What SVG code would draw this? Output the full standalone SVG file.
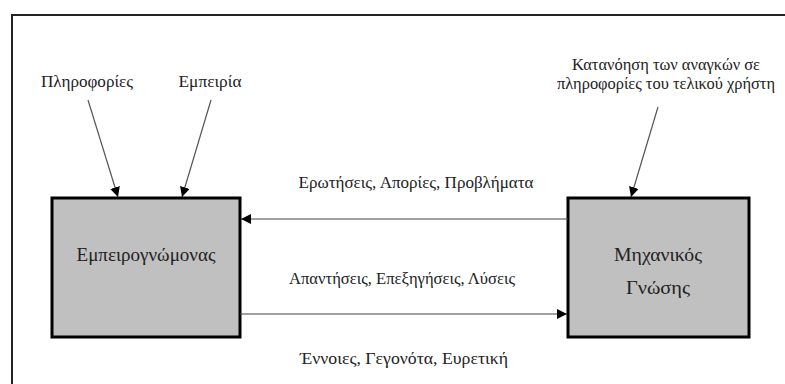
<svg xmlns="http://www.w3.org/2000/svg" width="785" height="384" viewBox="0 0 785 384">
  <defs>
    <marker id="arrow" viewBox="0 0 10 10" refX="10" refY="5" markerWidth="10" markerHeight="10" markerUnits="userSpaceOnUse" orient="auto">
      <path d="M0,0 L10,5 L0,10 z" fill="#000"/>
    </marker>
  </defs>
  <style>
    text { font-family: "Liberation Serif", "Times New Roman", serif; fill: #222; }
    .lbl { font-size: 16px; }
    .node-text { font-size: 18px; }
    .box { fill: #c0c0c0; stroke: #000; stroke-width: 3; }
    .link { stroke: #444; stroke-width: 1.2; fill: none; marker-end: url(#arrow); }
    .diag { stroke: #555; stroke-width: 1.2; fill: none; marker-end: url(#arrow); }
  </style>

  <rect x="0" y="0" width="785" height="384" fill="#fff"/>
  <!-- outer frame (open on the right and bottom) -->
  <rect x="12" y="15" width="800" height="400" fill="none" stroke="#222" stroke-width="2"/>

  <g id="expert">
    <rect class="box" x="52" y="198" width="188" height="139"/>
    <text class="node-text" x="146" y="261" text-anchor="middle" textLength="139" lengthAdjust="spacingAndGlyphs">Εμπειρογνώμονας</text>
  </g>

  <g id="knowledge-engineer">
    <rect class="box" x="568" y="198" width="181" height="139"/>
    <text class="node-text" x="658" y="261" text-anchor="middle" textLength="88" lengthAdjust="spacingAndGlyphs">Μηχανικός</text>
    <text class="node-text" x="658" y="294" text-anchor="middle" textLength="64" lengthAdjust="spacingAndGlyphs">Γνώσης</text>
  </g>

  <g id="inputs">
    <text class="lbl" x="87" y="87" text-anchor="middle" textLength="92" lengthAdjust="spacingAndGlyphs">Πληροφορίες</text>
    <text class="lbl" x="210" y="87" text-anchor="middle" textLength="63" lengthAdjust="spacingAndGlyphs">Εμπειρία</text>
    <text class="lbl" x="666" y="70" text-anchor="middle" textLength="188" lengthAdjust="spacingAndGlyphs">Κατανόηση των αναγκών σε</text>
    <text class="lbl" x="666" y="89" text-anchor="middle" textLength="218" lengthAdjust="spacingAndGlyphs">πληροφορίες του τελικού χρήστη</text>
  </g>

  <g id="connectors">
    <line class="diag" x1="88" y1="100" x2="118" y2="197"/>
    <line class="diag" x1="211" y1="100" x2="182" y2="197"/>
    <line class="diag" x1="658" y1="107" x2="631" y2="197"/>
    <line class="link" x1="568" y1="219" x2="241" y2="219"/>
    <line class="link" x1="240" y1="314" x2="567" y2="314"/>
  </g>

  <g id="connector-labels">
    <text class="lbl" x="416" y="188" text-anchor="middle" textLength="235" lengthAdjust="spacingAndGlyphs">Ερωτήσεις, Απορίες, Προβλήματα</text>
    <text class="lbl" x="402" y="284" text-anchor="middle" textLength="226" lengthAdjust="spacingAndGlyphs">Απαντήσεις, Επεξηγήσεις, Λύσεις</text>
    <text class="lbl" x="404" y="364" text-anchor="middle" textLength="208" lengthAdjust="spacingAndGlyphs">Έννοιες, Γεγονότα, Ευρετική</text>
  </g>
</svg>
